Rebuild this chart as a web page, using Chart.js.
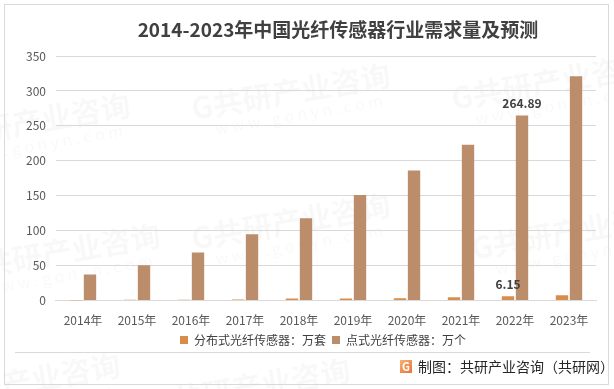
<!DOCTYPE html>
<html>
<head>
<meta charset="utf-8">
<script src="https://cdn.jsdelivr.net/npm/chart.js@4"></script>
<style>
  html, body { margin: 0; padding: 0; background: #fff; }
  #wrap { width: 614px; height: 389px; position: relative; }
</style>
</head>
<body>
<div id="wrap"><canvas id="grafico" width="614" height="389"></canvas></div>
<script>
// 数据
const anios = ["2014年", "2015年", "2016年", "2017年", "2018年", "2019年", "2020年", "2021年", "2022年", "2023年"];
const distribuido = [0.3, 1.1, 1.3, 1.5, 2.9, 3.1, 3.4, 4.8, 6.15, 7.5];   // 分布式：万套
const puntual = [37.5, 50.5, 69, 95, 118, 151, 186, 223, 264.89, 321];     // 点式：万个
const ticksY = [0, 50, 100, 150, 200, 250, 300, 350];
const etiquetas = { 0: { 8: "6.15" }, 1: { 8: "264.89" } };
const titulo = "2014-2023年中国光纤传感器行业需求量及预测";

const FUENTE = '"Noto Sans CJK SC", "Noto Sans", sans-serif';

// 边框、水印、标题、页脚
const decoracion = {
  id: "decoracion",
  afterLayout(chart) {
    // 图例稍向右，与绘图区居中
    chart.legend.left += 17;
    chart.legend.right += 17;
  },
  beforeDraw(chart) {
    const c = chart.ctx;
    c.save();
    c.fillStyle = "#fff";
    c.fillRect(0, 0, chart.width, chart.height);
    // 水印
    c.fillStyle = "rgba(0,0,0,0.028)";
    const marcas = [[70, 250], [300, 90], [40, 120], [300, 220], [560, 80], [580, 230], [30, 380], [260, 385]];
    marcas.forEach(([x, y]) => {
      c.save();
      c.translate(x, y);
      c.rotate(-0.17);
      c.font = "bold 30px " + FUENTE;
      c.fillText("G共研产业咨询", -110, 0);
      c.font = "16px " + FUENTE;
      c.fillText("w w w . g o n y n . c o m", -90, 24);
      c.restore();
    });
    // 标题
    c.fillStyle = "#404040";
    c.font = "bold 19px " + FUENTE;
    c.textAlign = "center";
    c.textBaseline = "middle";
    c.fillText(titulo, 338, 30);
    c.restore();
  },
  afterDraw(chart) {
    const c = chart.ctx;
    c.save();
    c.strokeStyle = "#d9d9d9";
    c.lineWidth = 1;
    c.strokeRect(4.5, 4.5, 604, 380);
    c.beginPath();
    c.moveTo(15, 352.5);
    c.lineTo(590, 352.5);
    c.stroke();
    // 标志
    const g = c.createLinearGradient(400, 360, 412, 374);
    g.addColorStop(0, "#f6b26b");
    g.addColorStop(1, "#e8703a");
    c.fillStyle = g;
    c.fillRect(400, 360, 12, 13);
    c.fillStyle = "#fff";
    c.font = "bold 11px " + FUENTE;
    c.textAlign = "center";
    c.textBaseline = "middle";
    c.fillText("G", 406, 367);
    // 页脚
    c.fillStyle = "#262626";
    c.font = "14px " + FUENTE;
    c.textAlign = "left";
    c.fillText("制图：共研产业咨询（共研网）", 418, 367);
    c.restore();
  }
};

// 数值标签
const etiquetasDatos = {
  id: "etiquetasDatos",
  afterDatasetsDraw(chart) {
    const c = chart.ctx;
    c.save();
    c.fillStyle = "#404040";
    c.font = "bold 12px " + FUENTE;
    c.textAlign = "center";
    c.textBaseline = "bottom";
    Object.keys(etiquetas).forEach(ds => {
      const meta = chart.getDatasetMeta(Number(ds));
      Object.keys(etiquetas[ds]).forEach(i => {
        const el = meta.data[Number(i)];
        c.fillText(etiquetas[ds][i], el.x, el.y - 6);
      });
    });
    c.restore();
  }
};

new Chart(document.getElementById("grafico"), {
  type: "bar",
  data: {
    labels: anios,
    datasets: [
      {
        label: "分布式光纤传感器：万套",
        data: distribuido,
        backgroundColor: "#D98D4D",
        barPercentage: 0.88,
        categoryPercentage: 0.52
      },
      {
        label: "点式光纤传感器：万个",
        data: puntual,
        backgroundColor: "#BB8D6B",
        barPercentage: 0.88,
        categoryPercentage: 0.52
      }
    ]
  },
  options: {
    responsive: false,
    animation: false,
    layout: { padding: { left: 16, right: 18, top: 56, bottom: 33 } },
    plugins: {
      title: { display: false },
      legend: {
        position: "bottom",
        labels: {
          color: "#404040",
          font: { family: FUENTE, size: 12 },
          boxWidth: 8,
          boxHeight: 8,
          padding: 6
        }
      },
      tooltip: { enabled: false }
    },
    scales: {
      x: {
        grid: { display: false },
        border: { color: "#d9d9d9" },
        ticks: { color: "#595959", font: { family: FUENTE, size: 12 }, padding: 5 },
        afterFit: (axis) => { axis.height -= 5; }
      },
      y: {
        min: 0,
        max: 350,
        afterBuildTicks: (axis) => { axis.ticks = ticksY.map(v => ({ value: v })); },
        grid: { color: "#d9d9d9", drawTicks: false },
        border: { display: false },
        ticks: { color: "#595959", font: { family: FUENTE, size: 12 }, padding: 10 }
      }
    }
  },
  plugins: [decoracion, etiquetasDatos]
});
</script>
</body>
</html>
